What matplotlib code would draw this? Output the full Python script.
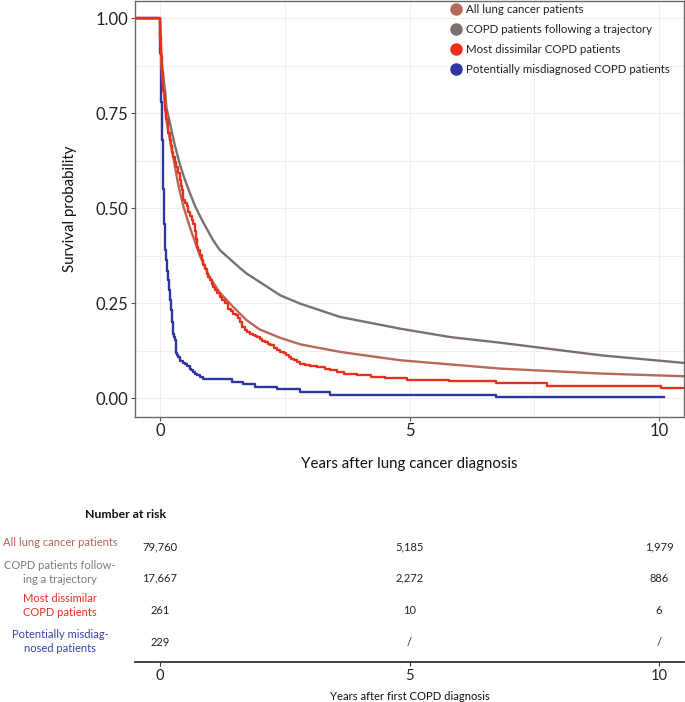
import matplotlib
matplotlib.use("Agg")
import matplotlib.pyplot as plt
from matplotlib.lines import Line2D

plt.rcParams['font.family'] = ['Lato', 'DejaVu Sans']

# ---------------- data ----------------
series_names = ["All lung cancer patients", "COPD patients following a trajectory",
                "Most dissimilar COPD patients", "Potentially misdiagnosed COPD patients"]
colors = ["#B9675A", "#7B7070", "#E8301C", "#2F36A1"]

t_all = [-0.5, 0.0, 0.03, 0.13, 0.23, 0.37, 0.47, 0.6, 0.8, 1.0, 1.2, 1.47, 1.74, 2.0, 2.41,
         2.81, 3.61, 4.82, 5.82, 6.83, 8.84, 10.5]
s_all = [1.0, 1.0, 0.87, 0.73, 0.66, 0.56, 0.505, 0.45, 0.375, 0.318, 0.278, 0.24, 0.205, 0.181,
         0.159, 0.142, 0.122, 0.1, 0.089, 0.078, 0.065, 0.058]

t_traj = [-0.5, 0.0, 0.03, 0.1, 0.13, 0.3, 0.4, 0.5, 0.6, 0.7, 0.8, 0.9, 1.07, 1.2, 1.61, 1.74,
          2.41, 2.81, 3.61, 4.82, 5.82, 6.83, 8.84, 10.5]
s_traj = [1.0, 1.0, 0.89, 0.81, 0.765, 0.665, 0.615, 0.575, 0.54, 0.507, 0.48, 0.455, 0.415,
          0.39, 0.342, 0.328, 0.271, 0.249, 0.214, 0.183, 0.161, 0.146, 0.113, 0.093]

t_diss = [-0.5, 0.0, 0.02, 0.04, 0.066, 0.1, 0.13, 0.17, 0.2, 0.22, 0.25, 0.27, 0.3, 0.33,
          0.36, 0.4, 0.42, 0.44, 0.47, 0.5, 0.54, 0.57, 0.6, 0.64, 0.67, 0.7, 0.72, 0.74, 0.77,
          0.8, 0.84, 0.87, 0.91, 0.94, 0.97, 1.0, 1.04, 1.07, 1.1, 1.14, 1.2, 1.25, 1.3, 1.37,
          1.42, 1.47, 1.52, 1.57, 1.6, 1.64, 1.7, 1.74, 1.81, 1.86, 1.9, 1.95, 2.0, 2.05, 2.1,
          2.16, 2.21, 2.28, 2.34, 2.41, 2.48, 2.53, 2.58, 2.63, 2.68, 2.75, 2.81, 2.9, 3.0, 3.15,
          3.3, 3.4, 3.55, 3.68, 3.95, 4.22, 4.5, 4.94, 5.79, 6.73, 7.76, 10.03, 10.5]
s_diss = [1.0, 0.95, 0.9, 0.86, 0.81, 0.76, 0.735, 0.697, 0.68, 0.665, 0.648, 0.635, 0.622, 0.609,
          0.592, 0.574, 0.56, 0.548, 0.521, 0.515, 0.505, 0.49, 0.48, 0.47, 0.46, 0.44, 0.42, 0.398,
          0.39, 0.378, 0.363, 0.352, 0.34, 0.328, 0.318, 0.31, 0.302, 0.293, 0.285, 0.276, 0.267,
          0.258, 0.25, 0.236, 0.23, 0.223, 0.218, 0.212, 0.2, 0.188, 0.18, 0.175, 0.17, 0.166,
          0.163, 0.16, 0.157, 0.152, 0.148, 0.143, 0.139, 0.133, 0.128, 0.123, 0.118, 0.113, 0.108,
          0.104, 0.1, 0.095, 0.091, 0.088, 0.086, 0.082, 0.078, 0.074, 0.069, 0.065, 0.06, 0.056,
          0.054, 0.049, 0.045, 0.039, 0.033, 0.027, 0.027]

t_mis = [-0.5, 0.0, 0.01, 0.02, 0.03, 0.04, 0.047, 0.054, 0.06, 0.066, 0.073, 0.08, 0.09, 0.1,
         0.11, 0.12, 0.13, 0.145, 0.16, 0.18, 0.2, 0.215, 0.23, 0.25, 0.27, 0.285, 0.3, 0.315,
         0.33, 0.35, 0.37, 0.4, 0.47, 0.5, 0.55, 0.6, 0.63, 0.67, 0.7, 0.74, 0.8, 0.87, 1.44,
         1.67, 1.91, 2.34, 2.81, 3.41, 6.73, 10.1]
s_mis = [1.0, 0.97, 0.91, 0.85, 0.78, 0.72, 0.68, 0.64, 0.6, 0.55, 0.52, 0.495, 0.46, 0.42,
         0.39, 0.375, 0.363, 0.335, 0.31, 0.285, 0.258, 0.245, 0.232, 0.2, 0.17, 0.16, 0.153, 0.135,
         0.118, 0.113, 0.109, 0.098, 0.094, 0.091, 0.085, 0.078, 0.074, 0.07, 0.065, 0.061, 0.056,
         0.052, 0.043, 0.037, 0.03, 0.025, 0.017, 0.008, 0.003, 0.003]

x_ticks = [0, 5, 10]
y_ticks = [0.0, 0.25, 0.5, 0.75, 1.0]

risk_labels = ["All lung cancer patients", "COPD patients follow-\ning a trajectory",
               "Most dissimilar\nCOPD patients", "Potentially misdiag-\nnosed patients"]
risk_times = [0, 5, 10]
risk_all = ["79,760", "5,185", "1,979"]
risk_traj = ["17,667", "2,272", "886"]
risk_diss = ["261", "10", "6"]
risk_mis = ["229", "/", "/"]
risk_label_colors = ["#B5655A", "#837878", "#E8301C", "#3A40B0"]

# ---------------- layout helpers ----------------
W, H = 685, 702
def fx(px): return px / W
def fy(py): return 1 - py / H

fig = plt.figure(figsize=(W / 100, H / 100), dpi=100)

ax = fig.add_axes([fx(135), fy(416.5), (684 - 135) / W, 416 / H])
ax.set_xlim(-0.5, 10.5)
ax.set_ylim(-0.048, 1.047)

ax.plot(t_traj, s_traj, color=colors[1], lw=1.7, zorder=3)
ax.plot(t_mis, s_mis, color=colors[3], lw=1.7, drawstyle='steps-post', zorder=3)
ax.plot(t_all, s_all, color=colors[0], lw=1.7, zorder=3)
ax.plot(t_diss, s_diss, color=colors[2], lw=1.7, drawstyle='steps-post', zorder=4)

ax.set_xticks(x_ticks)
ax.set_yticks(y_ticks)
ax.set_yticklabels([f"{v:.2f}" for v in y_ticks])
ax.set_xticks([2.5, 7.5], minor=True)
ax.set_yticks([0.125, 0.375, 0.625, 0.875], minor=True)
ax.grid(True, which='both', color='#EFEFEF', lw=0.7, zorder=0)
ax.tick_params(which='minor', length=0)
ax.tick_params(which='major', length=3, width=0.8, color='#555555', labelsize=12,
               labelcolor='#222222', pad=1.5)
for sp in ax.spines.values():
    sp.set_color('#6A6A6A')
    sp.set_linewidth(1.0)

ax.set_ylabel("Survival probability", fontsize=10.8, color='#111111', labelpad=13.5)
ax.set_xlabel("Years after lung cancer diagnosis", fontsize=10.8, color='#111111', labelpad=13)

handles = [Line2D([], [], ls='none', marker='o', markersize=8, color=c) for c in colors]
leg = ax.legend(handles, series_names, loc='upper left',
                bbox_to_anchor=(fx(446.8), fy(1.5)), bbox_transform=fig.transFigure,
                frameon=False, fontsize=8.3, labelspacing=0.8, handletextpad=0.27,
                handlelength=1.2, borderpad=0.2, borderaxespad=0)
for txt in leg.get_texts():
    txt.set_color('#222222')

# ---------------- risk table ----------------
ax2 = fig.add_axes([fx(135), fy(662), (684 - 135) / W, 132 / H])
ax2.set_xlim(-0.5, 10.5)
ax2.set_ylim(662, 530)
for s in ['top', 'right', 'left']:
    ax2.spines[s].set_visible(False)
ax2.spines['bottom'].set_color('#333333')
ax2.spines['bottom'].set_linewidth(1.3)
ax2.set_yticks([])
ax2.set_xticks(x_ticks)
ax2.tick_params(axis='x', length=3, width=0.8, color='#333333', labelsize=10.5,
                labelcolor='#222222', pad=2)
ax2.set_xlabel("Years after first COPD diagnosis", fontsize=8.1, color='#111111', labelpad=5.5)

num_py = [546.5, 578, 610, 643]
for vals, py in zip([risk_all, risk_traj, risk_diss, risk_mis], num_py):
    for t, v in zip(risk_times, vals):
        ax2.text(t, py, v, ha='center', va='center', fontsize=8, color='#222222')

label_py = [543, 572.5, 605.5, 641.5]
for lab, col, py in zip(risk_labels, risk_label_colors, label_py):
    fig.text(fx(60), fy(py), lab, ha='center', va='center', fontsize=8, color=col,
             multialignment='center', linespacing=1.4)

fig.text(fx(126), fy(515), "Number at risk", ha='center', va='center', fontsize=8.8,
         fontweight='bold', color='#111111')

fig.savefig("out.png", dpi=100, facecolor='white')
